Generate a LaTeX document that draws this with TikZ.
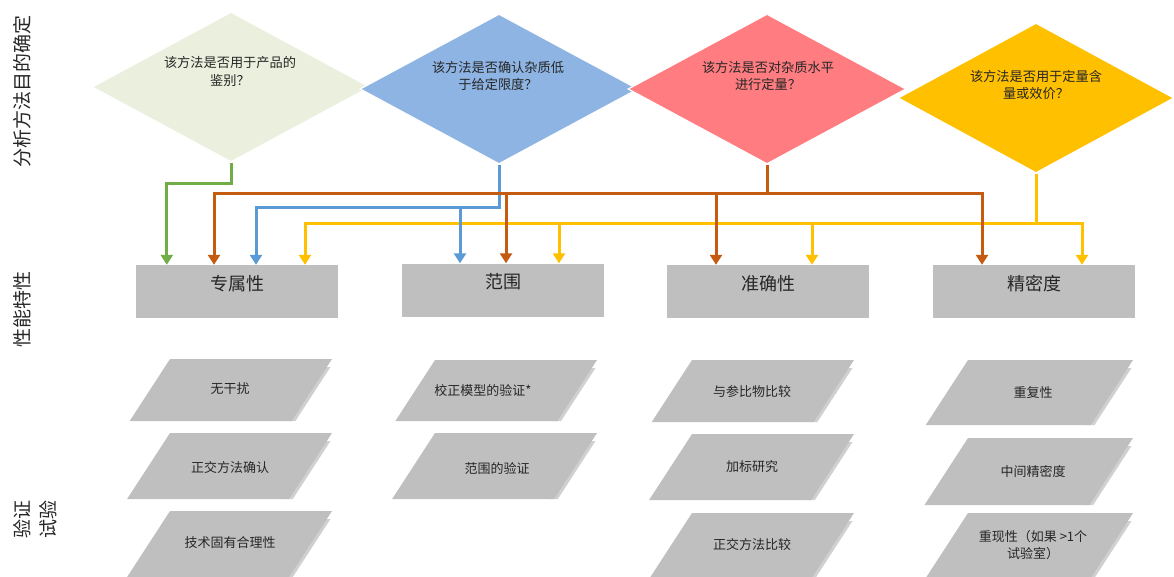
\documentclass[tikz,border=0pt]{standalone}
\usepackage{fontspec}
\setmainfont{Noto Sans CJK SC}
\usetikzlibrary{arrows.meta,shapes.geometric,calc}
\definecolor{dgreen}{HTML}{EBF0DE}
\definecolor{dblue}{HTML}{8EB4E3}
\definecolor{dred}{HTML}{FF7C80}
\definecolor{dyellow}{HTML}{FFC000}
\definecolor{lgreen}{HTML}{70AD47}
\definecolor{lorange}{HTML}{C55A11}
\definecolor{lblue}{HTML}{5B9BD5}
\definecolor{lyellow}{HTML}{FFC000}
\definecolor{boxgray}{HTML}{BFBFBF}
\definecolor{pgray}{HTML}{BFBFBF}
\definecolor{pshade}{HTML}{D0D0D0}
\definecolor{txt}{HTML}{262626}
\newcommand\pgram[4]{% #1 top-left x, #2 top y, #3 bottom y, #4 width
  \fill[pshade] ({#1+#4-1.5},{#2+8}) -- ({#1+#4-1.5-0.65*(#3-#2-8)},#3) -- ({#1+#4-0.65*(#3-#2)-6},#3) -- ({#1+#4-12},{#2+8}) -- cycle;
  \fill[pgray] (#1,#2) -- ({#1+#4},#2) -- ({#1+#4-0.65*(#3-#2)},#3) -- ({#1-0.65*(#3-#2)},#3) -- cycle;
}
\begin{document}
\begin{tikzpicture}[x=1pt,y=-1pt,
  dia/.style={diamond,draw=white,line width=1.2pt,inner sep=0pt,minimum width=278pt,minimum height=150pt},
  dtext/.style={font=\fontsize{13.2}{17.5}\selectfont,align=center,text=txt,inner sep=0pt},
  box/.style={fill=boxgray,minimum width=202pt,minimum height=53pt,inner sep=0pt},
  btext/.style={font=\fontsize{18}{20}\selectfont,text=txt,inner sep=0pt},
  ptext/.style={font=\fontsize{13}{17}\selectfont,align=center,text=txt,inner sep=0pt},
  side/.style={font=\fontsize{19}{26}\selectfont,rotate=90,align=center,text=txt,inner sep=0pt},
  conn/.style={line width=3pt},
  arr/.style={conn,-{Triangle[width=12pt,length=10pt]}}]
\useasboundingbox (0,0) rectangle (1174,576);

% side labels
\node[side] (s1) at (22,91) {分析方法目的确定};
\node[side] (s2) at (22,309) {性能特性};
\node[side] (s3) at (35,519) {验证\\试验};

% diamonds
\node[dia,fill=dgreen] (d1) at (231,87) {};
\node[dia,fill=dblue] (d2) at (499,89) {};
\node[dia,fill=dred] (d3) at (767,89) {};
\node[dia,fill=dyellow,minimum width=276pt] (d4) at (1036,98) {};
\node[dtext] (d1t) at (230,71.5) {该方法是否用于产品的\\鉴别？};
\node[dtext] (d2t) at (498,76) {该方法是否确认杂质低\\于给定限度？};
\node[dtext] (d3t) at (768,76) {该方法是否对杂质水平\\进行定量？};
\node[dtext] (d4t) at (1036,85) {该方法是否用于定量含\\量或效价？};

% boxes
\node[box] (b1) at (237,291.5) {};
\node[box] (b2) at (503,290) {};
\node[box] (b3) at (768,291.5) {};
\node[box] (b4) at (1034,291.5) {};
\node[btext] (b1t) at ([yshift=8pt]b1.center) {专属性};
\node[btext] (b2t) at ([yshift=8pt]b2.center) {范围};
\node[btext] (b3t) at ([yshift=8pt]b3.center) {准确性};
\node[btext] (b4t) at ([yshift=8pt]b4.center) {精密度};

% yellow connectors
\coordinate (yC) at (1036,223);
\coordinate (yL) at (305,223);
\coordinate (yR) at (1082,223);
\coordinate (y2) at (559,223);
\coordinate (y3) at (812,223);
\draw[conn,lyellow] (d4.south) -- (yC);
\draw[arr,lyellow] (yC) -| (yL |- b1.north);
\draw[arr,lyellow] (yC) -| (yR |- b4.north);
\draw[arr,lyellow] (y2) -- (y2 |- b2.north);
\draw[arr,lyellow] (y3) -- (y3 |- b3.north);

% blue connectors
\coordinate (bC) at (499,207);
\coordinate (bL) at (256,207);
\coordinate (bD) at (460,207);
\draw[arr,lblue] (d2.south) -- (bC) -| (bL |- b1.north);
\draw[arr,lblue] (bD) -- (bD |- b2.north);

% orange connectors
\coordinate (oC) at (767,193);
\coordinate (oL) at (214,193);
\coordinate (oR) at (982,193);
\coordinate (o2) at (506,193);
\coordinate (o3) at (716,193);
\draw[conn,lorange] (d3.south) -- (oC);
\draw[arr,lorange] (oC) -| (oL |- b1.north);
\draw[arr,lorange] (oC) -| (oR |- b4.north);
\draw[arr,lorange] (o2) -- (o2 |- b2.north);
\draw[arr,lorange] (o3) -- (o3 |- b3.north);

% green connector
\coordinate (gC) at (231,183);
\draw[arr,lgreen] (d1.south) -- (gC) -| ([xshift=31pt]b1.north west);

% parallelograms
\pgram{170}{359}{421}{162}
\pgram{170}{433}{499}{162}
\pgram{170}{511}{585}{162}
\pgram{435}{360}{421}{162}
\pgram{435}{433}{499}{162}
\pgram{692}{360}{422}{162}
\pgram{692}{434}{500}{162}
\pgram{692}{513}{585}{162}
\pgram{968}{360}{425}{165}
\pgram{968}{438}{505}{165}
\pgram{968}{513}{585}{165}

\node[ptext] (p11) at (230,389) {无干扰};
\node[ptext] (p12) at (230,468) {正交方法确认};
\node[ptext] (p13) at (230,543) {技术固有合理性};
\node[ptext] (p21) at (483,391) {校正模型的验证*};
\node[ptext] (p22) at (497,468) {范围的验证};
\node[ptext] (p31) at (752,392) {与参比物比较};
\node[ptext] (p32) at (752,467) {加标研究};
\node[ptext] (p33) at (752,545) {正交方法比较};
\node[ptext] (p41) at (1033,393) {重复性};
\node[ptext] (p42) at (1033,471) {中间精密度};
\node[ptext] (p43) at (1033,545) {重现性（如果 >1个\\试验室）};
\end{tikzpicture}
\end{document}
